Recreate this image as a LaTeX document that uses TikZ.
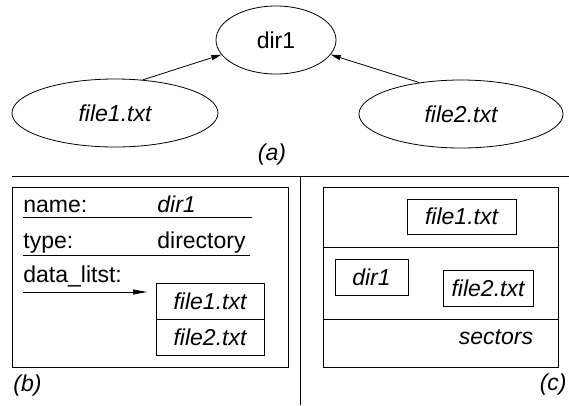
\documentclass[tikz,border=0pt]{standalone}
\usepackage{fontspec}
\setmainfont{Liberation Sans}
\usetikzlibrary{shapes.geometric,arrows.meta}
\begin{document}
\begin{tikzpicture}[x=1pt,y=-1pt,line width=0.8pt,
  every node/.style={font=\fontsize{23}{27}\selectfont,inner sep=0pt},
  ell/.style={draw,ellipse},
  cell/.style={draw,anchor=north west,outer sep=0pt},
  arr/.style={-{Triangle[length=10pt,width=5pt]}},
  longarr/.style={-{Triangle[length=14pt,width=5pt]}}]
\useasboundingbox (0,0) rectangle (569,405);
% (a)
\node[ell,minimum width=120pt,minimum height=68pt] (dir1) at (276,40) {dir1};
\node[ell,minimum width=206pt,minimum height=68pt] (file1) at (115,113) {\itshape file1.txt};
\node[ell,minimum width=204pt,minimum height=68pt] (file2) at (461,114) {\itshape file2.txt};
\draw[arr] (file1.50) -- (dir1.195);
\draw[arr] (file2.143) -- (dir1.345);
\node (la) at (272,155) {\itshape (a)};
% dividers
\coordinate (h1) at (12,176);
\coordinate (h2) at (569,176);
\coordinate (v1) at (300,176);
\coordinate (v2) at (300,405);
\draw (h1) -- (h2);
\draw (v1) -- (v2);
% (b)
\node[cell,minimum width=276pt,minimum height=180pt] (bbox) at (12,187) {};
\node[anchor=base west] (tname) at (23,212) {name:};
\node[anchor=base west] (vname) at (157,212) {\itshape dir1};
\node[anchor=base west] (ttype) at (23,248) {type:};
\node[anchor=base west] (vtype) at (157,248) {directory};
\node[anchor=base west] (tdata) at (23,282) {data\_litst:};
\coordinate (u1a) at (23,217); \coordinate (u1b) at (252,217);
\coordinate (u2a) at (23,255); \coordinate (u2b) at (250,255);
\draw (u1a) -- (u1b);
\draw (u2a) -- (u2b);
\node[cell,minimum width=108pt,minimum height=36pt] (l1) at (156,283) {\itshape file1.txt};
\node[draw,outer sep=0pt,anchor=north,minimum width=108pt,minimum height=36pt] (l2) at (l1.south) {\itshape file2.txt};
\coordinate (as) at (23,292);
\coordinate (ae) at (147,292);
\draw[longarr] (as) -- (ae);
\node[anchor=west] (lb) at (13,386) {\itshape (b)};
% (c)
\node[cell,minimum width=235pt,minimum height=180pt] (cbox) at (323,187) {};
\coordinate (c1a) at (323,247); \coordinate (c1b) at (558,247);
\coordinate (c2a) at (323,319); \coordinate (c2b) at (558,319);
\draw (c1a) -- (c1b);
\draw (c2a) -- (c2b);
\node[cell,minimum width=109pt,minimum height=35pt] (cf1) at (407,199) {\itshape file1.txt};
\node[cell,minimum width=73pt,minimum height=36pt] (cd1) at (335,259) {\itshape dir1};
\node[cell,minimum width=90pt,minimum height=36pt] (cf2) at (443,270) {\itshape file2.txt};
\node (sec) at (496,337) {\itshape sectors};
\node[anchor=east] (lc) at (567,385) {\itshape (c)};
\end{tikzpicture}
\end{document}
